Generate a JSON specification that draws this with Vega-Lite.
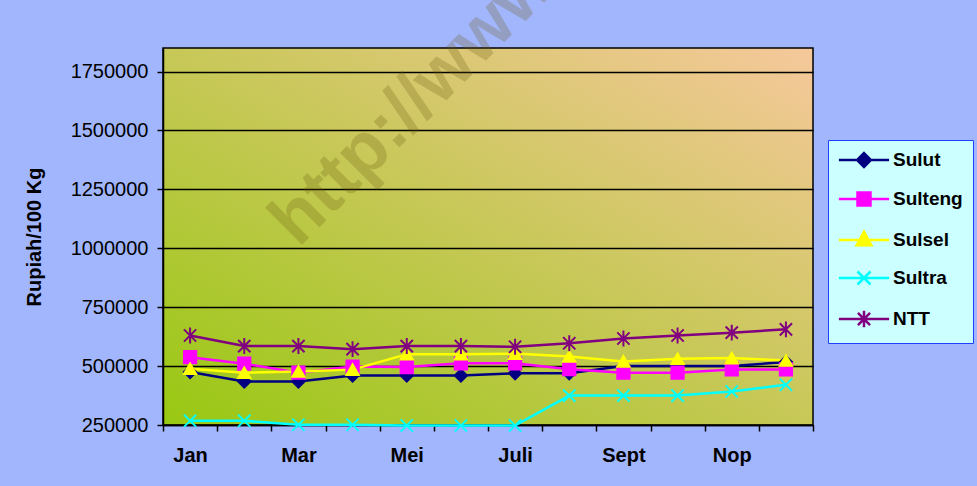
{
  "$schema": "https://vega.github.io/schema/vega-lite/v6.json",
  "width": 650,
  "height": 377,
  "autosize": {"type": "none"},
  "padding": {"left": 163, "top": 48, "right": 164, "bottom": 61},
  "background": "#A2B6FE",
  "config": {
    "font": "Liberation Sans",
    "view": {
      "fill": {"gradient": "linear", "x1": 0, "y1": 1, "x2": 1, "y2": 0, "stops": [{"offset": 0, "color": "#98C812"}, {"offset": 1, "color": "#F6C89C"}]},
      "stroke": "#000000",
      "strokeWidth": 1.5
    }
  },
  "layer": [
    {
      "data": {"values": [
        {"month": "Jan", "series": "Sulut", "value": 475000},
        {"month": "Feb", "series": "Sulut", "value": 435000},
        {"month": "Mar", "series": "Sulut", "value": 435000},
        {"month": "Apr", "series": "Sulut", "value": 460000},
        {"month": "Mei", "series": "Sulut", "value": 460000},
        {"month": "Jun", "series": "Sulut", "value": 460000},
        {"month": "Juli", "series": "Sulut", "value": 470000},
        {"month": "Ags", "series": "Sulut", "value": 470000},
        {"month": "Sept", "series": "Sulut", "value": 500000},
        {"month": "Okt", "series": "Sulut", "value": 500000},
        {"month": "Nop", "series": "Sulut", "value": 500000},
        {"month": "Des", "series": "Sulut", "value": 517000},
        {"month": "Jan", "series": "Sulteng", "value": 538000},
        {"month": "Feb", "series": "Sulteng", "value": 510000},
        {"month": "Mar", "series": "Sulteng", "value": 472000},
        {"month": "Apr", "series": "Sulteng", "value": 498000},
        {"month": "Mei", "series": "Sulteng", "value": 496000},
        {"month": "Jun", "series": "Sulteng", "value": 512000},
        {"month": "Juli", "series": "Sulteng", "value": 512000},
        {"month": "Ags", "series": "Sulteng", "value": 487000},
        {"month": "Sept", "series": "Sulteng", "value": 472000},
        {"month": "Okt", "series": "Sulteng", "value": 472000},
        {"month": "Nop", "series": "Sulteng", "value": 486000},
        {"month": "Des", "series": "Sulteng", "value": 486000},
        {"month": "Jan", "series": "Sulsel", "value": 489000},
        {"month": "Feb", "series": "Sulsel", "value": 472000},
        {"month": "Mar", "series": "Sulsel", "value": 477000},
        {"month": "Apr", "series": "Sulsel", "value": 485000},
        {"month": "Mei", "series": "Sulsel", "value": 550000},
        {"month": "Jun", "series": "Sulsel", "value": 550000},
        {"month": "Juli", "series": "Sulsel", "value": 553000},
        {"month": "Ags", "series": "Sulsel", "value": 541000},
        {"month": "Sept", "series": "Sulsel", "value": 520000},
        {"month": "Okt", "series": "Sulsel", "value": 531000},
        {"month": "Nop", "series": "Sulsel", "value": 534000},
        {"month": "Des", "series": "Sulsel", "value": 524000},
        {"month": "Jan", "series": "Sultra", "value": 268000},
        {"month": "Feb", "series": "Sultra", "value": 268000},
        {"month": "Mar", "series": "Sultra", "value": 251000},
        {"month": "Apr", "series": "Sultra", "value": 251000},
        {"month": "Mei", "series": "Sultra", "value": 248000},
        {"month": "Jun", "series": "Sultra", "value": 248000},
        {"month": "Juli", "series": "Sultra", "value": 248000},
        {"month": "Ags", "series": "Sultra", "value": 375000},
        {"month": "Sept", "series": "Sultra", "value": 375000},
        {"month": "Okt", "series": "Sultra", "value": 375000},
        {"month": "Nop", "series": "Sultra", "value": 392000},
        {"month": "Des", "series": "Sultra", "value": 421000},
        {"month": "Jan", "series": "NTT", "value": 630000},
        {"month": "Feb", "series": "NTT", "value": 585000},
        {"month": "Mar", "series": "NTT", "value": 585000},
        {"month": "Apr", "series": "NTT", "value": 572000},
        {"month": "Mei", "series": "NTT", "value": 585000},
        {"month": "Jun", "series": "NTT", "value": 585000},
        {"month": "Juli", "series": "NTT", "value": 582000},
        {"month": "Ags", "series": "NTT", "value": 597000},
        {"month": "Sept", "series": "NTT", "value": 617000},
        {"month": "Okt", "series": "NTT", "value": 630000},
        {"month": "Nop", "series": "NTT", "value": 642000},
        {"month": "Des", "series": "NTT", "value": 656000}
      ]},
      "encoding": {
        "x": {
          "field": "month", "type": "nominal",
          "sort": ["Jan", "Feb", "Mar", "Apr", "Mei", "Jun", "Juli", "Ags", "Sept", "Okt", "Nop", "Des"],
          "scale": {"type": "band", "paddingInner": 0, "paddingOuter": 0},
          "axis": {
            "title": null, "labelAngle": 0, "labelFontWeight": "bold", "labelFontSize": 20, "labelColor": "#000000",
            "labelPadding": 14, "tickBand": "extent", "tickColor": "#000000", "tickSize": 6, "tickWidth": 1.5,
            "domainColor": "#000000", "domainWidth": 1.5, "grid": false, "labelOverlap": false,
            "labelExpr": "indexof(['Jan','Mar','Mei','Juli','Sept','Nop'], datum.label) >= 0 ? datum.label : ''"
          }
        },
        "y": {
          "field": "value", "type": "quantitative",
          "scale": {"domain": [250000, 1850000], "nice": false, "zero": false},
          "axis": {
            "title": "Rupiah/100 Kg", "titleFontSize": 20, "titleFontWeight": "bold", "titleColor": "#000000", "titlePadding": 26,
            "values": [250000, 500000, 750000, 1000000, 1250000, 1500000, 1750000], "format": "d",
            "labelFontSize": 20, "labelColor": "#000000", "labelPadding": 9,
            "tickColor": "#000000", "tickSize": 6, "tickWidth": 1.5, "domainColor": "#000000", "domainWidth": 1.5,
            "grid": true, "gridColor": "#000000", "gridWidth": 1.5, "gridOpacity": 1
          }
        },
        "color": {
          "field": "series", "type": "nominal",
          "scale": {"domain": ["Sulut", "Sulteng", "Sulsel", "Sultra", "NTT"], "range": ["#000080", "#FF00FF", "#FFFF00", "#00FFFF", "#800080"]},
          "legend": {
            "orient": "none", "legendX": 665, "legendY": 92, "title": null,
            "fillColor": "#CCFFFF", "strokeColor": "#2040FF", "padding": 10,
            "rowPadding": 15, "labelFontSize": 19, "labelFontWeight": "bold", "labelColor": "#000000",
            "symbolSize": 300, "symbolOffset": 16, "labelOffset": 19, "symbolStrokeWidth": 2,
            "encoding": {
              "symbols": {
                "shape": {"value": {"expr": "datum.value === 'Sulut' ? 'M-2.9,0H2.9M0,-0.8L0.8,0L0,0.8L-0.8,0Z' : datum.value === 'Sulteng' ? 'M-2.9,0H2.9M-0.75,-0.75H0.75V0.75H-0.75Z' : datum.value === 'Sulsel' ? 'M-2.9,0H2.9M0,-0.95L0.85,0.6H-0.85Z' : datum.value === 'Sultra' ? 'M-2.9,0H2.9M-0.75,-0.75L0.75,0.75M-0.75,0.75L0.75,-0.75' : 'M-2.9,0H2.9M-0.7,-0.7L0.7,0.7M-0.7,0.7L0.7,-0.7M0,-0.95V0.95'"}},
                "fill": {"value": {"expr": "scale('color', datum.value)"}},
                "stroke": {"value": {"expr": "scale('color', datum.value)"}},
                "strokeWidth": {"value": 2.5},
                "opacity": {"value": 1}
              }
            }
          }
        }
      },
      "layer": [
        {
          "mark": {"type": "line", "strokeWidth": 2.5}
        },
        {
          "mark": {"type": "point", "filled": true, "size": 150, "strokeWidth": 2, "opacity": 1},
          "encoding": {
            "shape": {
              "field": "series", "type": "nominal",
              "scale": {"domain": ["NTT", "Sultra", "Sulsel", "Sulteng", "Sulut"], "range": ["M-1,-1L1,1M-1,1L1,-1M0,-1.3V1.3", "M-1,-1L1,1M-1,1L1,-1", "triangle-up", "square", "diamond"]},
              "legend": null
            },
            "stroke": {
              "field": "series", "type": "nominal",
              "scale": {"domain": ["NTT", "Sultra", "Sulsel", "Sulteng", "Sulut"], "range": ["#800080", "#00FFFF", "#FFFF00", "#FF00FF", "#000080"]},
              "legend": null
            }
          }
        }
      ]
    },
    {
      "data": {"values": [{"label": "http://www"}]},
      "mark": {"type": "text", "angle": -45, "align": "left", "baseline": "alphabetic", "fontSize": 72, "fontWeight": "bold", "color": "#6B5A10", "opacity": 0.25},
      "encoding": {
        "x": {"datum": "Mar", "type": "nominal"},
        "y": {"datum": 1000000, "type": "quantitative"},
        "text": {"field": "label", "type": "nominal"}
      }
    }
  ]
}
